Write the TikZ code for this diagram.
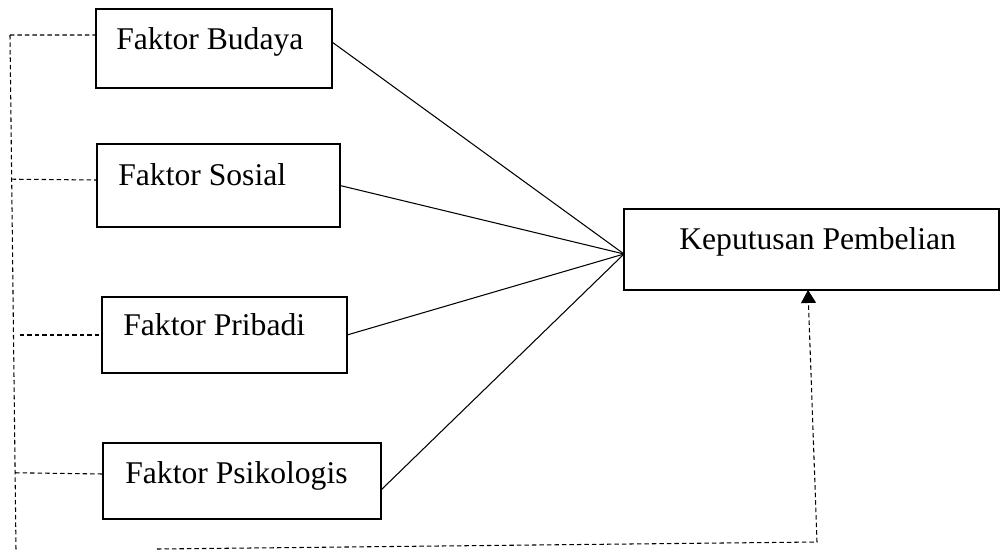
\documentclass[tikz,border=0pt]{standalone}
\usepackage{fontspec}
\setmainfont{Liberation Serif}
\usetikzlibrary{arrows.meta,fit,calc}
\begin{document}
\begin{tikzpicture}[x=0.02cm,y=-0.02cm,
  box/.style={draw, line width=0.6pt, inner sep=0pt, outer sep=0pt},
  thickbox/.style={box, line width=1.2pt},
  lbl/.style={anchor=base west, inner sep=0pt, font=\fontsize{18}{20}\selectfont},
  link/.style={line width=0.6pt},
  dashlink/.style={line width=0.6pt, dash pattern=on 0.09cm off 0.06cm}
]
\useasboundingbox (0,0) rectangle (1000,551);
% boxes
\node[box, fit={(96,9) (332,88)}] (bud) {};
\node[box, fit={(97,144) (340,227)}] (soc) {};
\node[box, fit={(102,297) (347,373)}] (pri) {};
\node[thickbox, fit={(103,443) (381,519)}] (psi) {};
\node[box, fit={(624,209) (999,290)}] (kp) {};
% labels
\node[lbl] (budt) at (116,49) {Faktor Budaya};
\node[lbl] (soct) at (118,185) {Faktor Sosial};
\node[lbl] (prit) at (123,335) {Faktor Pribadi};
\node[lbl] (psit) at (125,483) {Faktor Psikologis};
\node[lbl] (kpt) at (679,249) {Keputusan Pembelian};
% solid connectors
\coordinate (hub) at ([yshift=-0.09cm]kp.west);
\draw[link] ([yshift=0.13cm]bud.east) -- (hub);
\draw[link] (soc.east) -- (hub);
\draw[link] (pri.east) -- (hub);
\draw[link] ([yshift=-0.18cm]psi.east) -- (hub);
% dashed connectors
\coordinate (vtop) at (10,35);
\coordinate (vbot) at (16,550);
\draw[dashlink] (vtop) -- (vbot);
\draw[dashlink] (vtop) -- ([yshift=0.27cm]bud.west);
\draw[dashlink] ($(vtop)!0.28!(vbot)$) -- ([yshift=0.11cm]soc.west);
\coordinate (pl) at (20,335);
\draw[dashlink] (pl) -- (pri.west);
\draw[dashlink] ($(vtop)!0.85!(vbot)$) -- ([yshift=0.14cm]psi.west);
\coordinate (b1) at (157,549);
\coordinate (b2) at (817,542);
\draw[dashlink, -{Triangle[width=0.3cm,length=0.26cm]}] (b1) -- (b2) -- ([xshift=-0.07cm]kp.south);
\end{tikzpicture}
\end{document}
